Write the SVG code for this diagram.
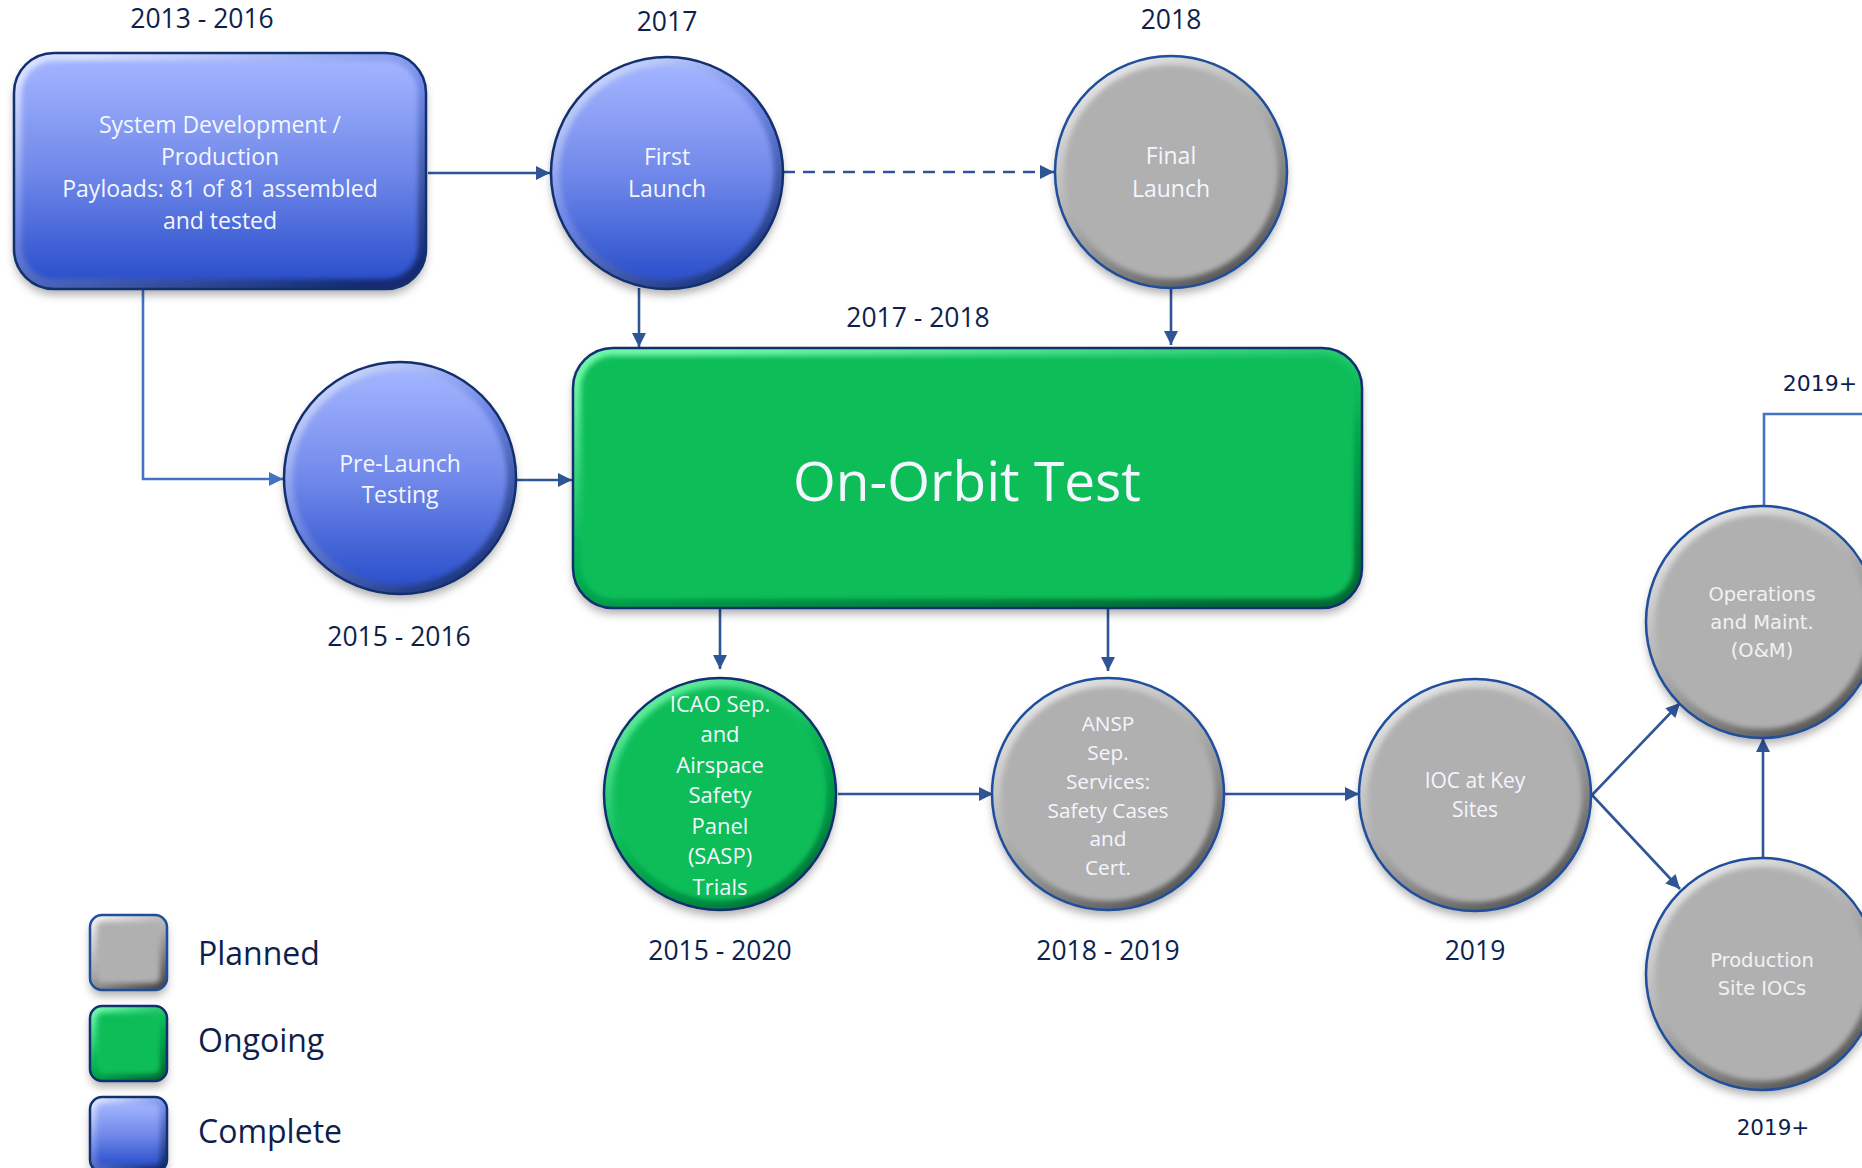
<svg xmlns="http://www.w3.org/2000/svg" width="1862" height="1168" viewBox="0 0 1862 1168">
<defs>
  <linearGradient id="rimBlue" x1="0.2" y1="0" x2="0.8" y2="1">
    <stop offset="0" stop-color="#d6e0ff"/>
    <stop offset="0.45" stop-color="#7088e6"/>
    <stop offset="1" stop-color="#132c72"/>
  </linearGradient>
  <linearGradient id="fillBlue" x1="0" y1="0" x2="0" y2="1">
    <stop offset="0" stop-color="#a3b4ff"/>
    <stop offset="0.5" stop-color="#7189ea"/>
    <stop offset="1" stop-color="#2b50cc"/>
  </linearGradient>
  <linearGradient id="rimGray" x1="0.2" y1="0" x2="0.8" y2="1">
    <stop offset="0" stop-color="#ececec"/>
    <stop offset="0.5" stop-color="#a9a9a9"/>
    <stop offset="1" stop-color="#4c4c4c"/>
  </linearGradient>
  <linearGradient id="rimGreen" x1="0.2" y1="0" x2="0.8" y2="1">
    <stop offset="0" stop-color="#6ff5a8"/>
    <stop offset="0.5" stop-color="#07b554"/>
    <stop offset="1" stop-color="#036a32"/>
  </linearGradient>
  <filter id="ds" x="-20%" y="-20%" width="140%" height="145%">
    <feDropShadow dx="0" dy="6" stdDeviation="4" flood-color="#000" flood-opacity="0.3"/>
  </filter>
  <filter id="soft" x="-10%" y="-10%" width="120%" height="120%">
    <feGaussianBlur stdDeviation="2.5"/>
  </filter>
  <marker id="arr" viewBox="0 0 10 10" refX="10" refY="5" markerUnits="userSpaceOnUse" markerWidth="15" markerHeight="14" orient="auto">
    <path d="M0,0 L10,5 L0,10 z" fill="#2f5597"/>
  </marker>
  <marker id="arrL" viewBox="0 0 10 10" refX="10" refY="5" markerUnits="userSpaceOnUse" markerWidth="15" markerHeight="14" orient="auto">
    <path d="M0,0 L10,5 L0,10 z" fill="#4472c4"/>
  </marker>
</defs>
<style>
  .conn { fill: none; stroke: #2f5597; stroke-width: 2.6; }
  .connL { fill: none; stroke: #4472c4; stroke-width: 2.6; }
  .outlineB { fill: none; stroke: #13306e; stroke-width: 2.5; }
  .outline { fill: none; stroke: #1f4e9c; stroke-width: 2.5; }
  .fillGray { fill: #b0b0b0; }
  .fillGreen { fill: #07bd58; }
  .lbl { font-family: "Open Sans", "Noto Sans", sans-serif; fill: #f4f6ff; text-anchor: middle; }
  .lblV { font-family: "DejaVu Sans", Verdana, sans-serif; fill: #f2f2f2; text-anchor: middle; }
  .yr { font-family: "Open Sans", "Noto Sans", sans-serif; fill: #0e1f4d; text-anchor: middle; font-size: 26.5px; }
  .yrV { font-family: "DejaVu Sans", Verdana, sans-serif; fill: #0e1f4d; text-anchor: middle; }
  .leg { font-family: "Open Sans", "Noto Sans", sans-serif; fill: #0e1f4d; font-size: 32px; }
</style>
<rect width="1862" height="1168" fill="#ffffff"/>

<g id="connectors">
  <path class="conn" d="M428,173 H550" marker-end="url(#arr)"/>
  <path class="conn" d="M783,172 H1054" stroke-dasharray="12 8" marker-end="url(#arr)"/>
  <path class="conn" d="M639,288 V347" marker-end="url(#arr)"/>
  <path class="conn" d="M1171,288 V345" marker-end="url(#arr)"/>
  <path class="connL" d="M143,288 V479 H283" marker-end="url(#arrL)"/>
  <path class="conn" d="M517,480 H572" marker-end="url(#arr)"/>
  <path class="conn" d="M720,608 V669" marker-end="url(#arr)"/>
  <path class="conn" d="M1108,608 V671" marker-end="url(#arr)"/>
  <path class="conn" d="M838,794 H993" marker-end="url(#arr)"/>
  <path class="conn" d="M1224,794 H1359" marker-end="url(#arr)"/>
  <path class="conn" d="M1592,795 L1680,703" marker-end="url(#arr)"/>
  <path class="conn" d="M1592,795 L1680,889" marker-end="url(#arr)"/>
  <path class="conn" d="M1763,857 V738" marker-end="url(#arr)"/>
  <path class="connL" d="M1764,505 V414 H1862"/>
</g>

<g id="system-development">
  <rect x="14" y="53" width="412" height="236" rx="40" fill="url(#rimBlue)" filter="url(#ds)"/>
  <rect x="22" y="61" width="396" height="218" rx="32" fill="url(#fillBlue)" filter="url(#soft)"/>
  <rect x="14" y="53" width="412" height="236" rx="40" class="outlineB"/>
  <text class="lbl" font-size="23" x="220" y="133">System Development /</text>
  <text class="lbl" font-size="23" x="220" y="165">Production</text>
  <text class="lbl" font-size="23" x="220" y="197">Payloads: 81 of 81 assembled</text>
  <text class="lbl" font-size="23" x="220" y="229">and tested</text>
</g>

<g id="first-launch">
  <circle cx="667" cy="173" r="116" fill="url(#rimBlue)" filter="url(#ds)"/>
  <circle cx="667" cy="173" r="107" fill="url(#fillBlue)" filter="url(#soft)"/>
  <circle cx="667" cy="173" r="116" class="outlineB"/>
  <text class="lbl" font-size="23" x="667" y="165">First</text>
  <text class="lbl" font-size="23" x="667" y="197">Launch</text>
</g>

<g id="final-launch">
  <circle cx="1171" cy="172" r="116" fill="url(#rimGray)" filter="url(#ds)"/>
  <circle cx="1171" cy="172" r="107" class="fillGray" filter="url(#soft)"/>
  <circle cx="1171" cy="172" r="116" class="outline"/>
  <text class="lbl" font-size="23" x="1171" y="164">Final</text>
  <text class="lbl" font-size="23" x="1171" y="197">Launch</text>
</g>

<g id="pre-launch-testing">
  <circle cx="400" cy="478" r="116" fill="url(#rimBlue)" filter="url(#ds)"/>
  <circle cx="400" cy="478" r="107" fill="url(#fillBlue)" filter="url(#soft)"/>
  <circle cx="400" cy="478" r="116" class="outlineB"/>
  <text class="lbl" font-size="23" x="400" y="472">Pre-Launch</text>
  <text class="lbl" font-size="23" x="400" y="503">Testing</text>
</g>

<g id="on-orbit-test">
  <rect x="573" y="348" width="789" height="260" rx="40" fill="url(#rimGreen)" filter="url(#ds)"/>
  <rect x="581" y="356" width="773" height="243" rx="32" class="fillGreen" filter="url(#soft)"/>
  <rect x="573" y="348" width="789" height="260" rx="40" class="outlineB"/>
  <text class="lbl" font-size="55" x="967" y="501" fill="#ffffff">On-Orbit Test</text>
</g>

<g id="icao-sasp">
  <circle cx="720" cy="794" r="116" fill="url(#rimGreen)" filter="url(#ds)"/>
  <circle cx="720" cy="794" r="107" class="fillGreen" filter="url(#soft)"/>
  <circle cx="720" cy="794" r="116" class="outlineB"/>
  <text class="lbl" font-size="22" x="720" y="712">ICAO Sep.</text>
  <text class="lbl" font-size="22" x="720" y="742">and</text>
  <text class="lbl" font-size="22" x="720" y="773">Airspace</text>
  <text class="lbl" font-size="22" x="720" y="803">Safety</text>
  <text class="lbl" font-size="22" x="720" y="834">Panel</text>
  <text class="lbl" font-size="22" x="720" y="864">(SASP)</text>
  <text class="lbl" font-size="22" x="720" y="895">Trials</text>
</g>

<g id="ansp-services">
  <circle cx="1108" cy="794" r="116" fill="url(#rimGray)" filter="url(#ds)"/>
  <circle cx="1108" cy="794" r="107" class="fillGray" filter="url(#soft)"/>
  <circle cx="1108" cy="794" r="116" class="outline"/>
  <text class="lbl" font-size="20.8" x="1108" y="731">ANSP</text>
  <text class="lbl" font-size="20.8" x="1108" y="760">Sep.</text>
  <text class="lbl" font-size="20.8" x="1108" y="789">Services:</text>
  <text class="lbl" font-size="20.8" x="1108" y="818">Safety Cases</text>
  <text class="lbl" font-size="20.8" x="1108" y="846">and</text>
  <text class="lbl" font-size="20.8" x="1108" y="875">Cert.</text>
</g>

<g id="ioc-key-sites">
  <circle cx="1475" cy="795" r="116" fill="url(#rimGray)" filter="url(#ds)"/>
  <circle cx="1475" cy="795" r="107" class="fillGray" filter="url(#soft)"/>
  <circle cx="1475" cy="795" r="116" class="outline"/>
  <text class="lbl" font-size="21" x="1475" y="788">IOC at Key</text>
  <text class="lbl" font-size="21" x="1475" y="817">Sites</text>
</g>

<g id="operations-maintenance">
  <circle cx="1762" cy="622" r="116" fill="url(#rimGray)" filter="url(#ds)"/>
  <circle cx="1762" cy="622" r="107" class="fillGray" filter="url(#soft)"/>
  <circle cx="1762" cy="622" r="116" class="outline"/>
  <text class="lblV" font-size="19.5" x="1762" y="601">Operations</text>
  <text class="lblV" font-size="19.5" x="1762" y="629">and Maint.</text>
  <text class="lblV" font-size="19.5" x="1762" y="657">(O&amp;M)</text>
</g>

<g id="production-site-iocs">
  <circle cx="1762" cy="974" r="116" fill="url(#rimGray)" filter="url(#ds)"/>
  <circle cx="1762" cy="974" r="107" class="fillGray" filter="url(#soft)"/>
  <circle cx="1762" cy="974" r="116" class="outline"/>
  <text class="lblV" font-size="19.5" x="1762" y="967">Production</text>
  <text class="lblV" font-size="19.5" x="1762" y="995">Site IOCs</text>
</g>

<g id="year-labels">
  <text class="yr" x="202" y="28">2013 - 2016</text>
  <text class="yr" x="667" y="31">2017</text>
  <text class="yr" x="1171" y="29">2018</text>
  <text class="yr" x="918" y="327">2017 - 2018</text>
  <text class="yr" x="399" y="646">2015 - 2016</text>
  <text class="yr" x="720" y="960">2015 - 2020</text>
  <text class="yr" x="1108" y="960">2018 - 2019</text>
  <text class="yr" x="1475" y="960">2019</text>
  <text class="yrV" font-size="22" x="1820" y="391">2019+</text>
  <text class="yrV" font-size="21.5" x="1773" y="1135">2019+</text>
</g>

<g id="legend">
  <g id="legend-planned">
    <rect x="90" y="915" width="77" height="75" rx="12" fill="url(#rimGray)" filter="url(#ds)"/>
    <rect x="97" y="922" width="63" height="61" rx="6" class="fillGray" filter="url(#soft)"/>
    <rect x="90" y="915" width="77" height="75" rx="12" class="outline"/>
    <text class="leg" x="198" y="965">Planned</text>
  </g>
  <g id="legend-ongoing">
    <rect x="90" y="1006" width="77" height="75" rx="12" fill="url(#rimGreen)" filter="url(#ds)"/>
    <rect x="97" y="1013" width="63" height="61" rx="6" class="fillGreen" filter="url(#soft)"/>
    <rect x="90" y="1006" width="77" height="75" rx="12" class="outlineB"/>
    <text class="leg" x="198" y="1052">Ongoing</text>
  </g>
  <g id="legend-complete">
    <rect x="90" y="1097" width="77" height="75" rx="12" fill="url(#rimBlue)" filter="url(#ds)"/>
    <rect x="97" y="1104" width="63" height="61" rx="6" fill="url(#fillBlue)" filter="url(#soft)"/>
    <rect x="90" y="1097" width="77" height="75" rx="12" class="outlineB"/>
    <text class="leg" x="198" y="1143">Complete</text>
  </g>
</g>
</svg>
